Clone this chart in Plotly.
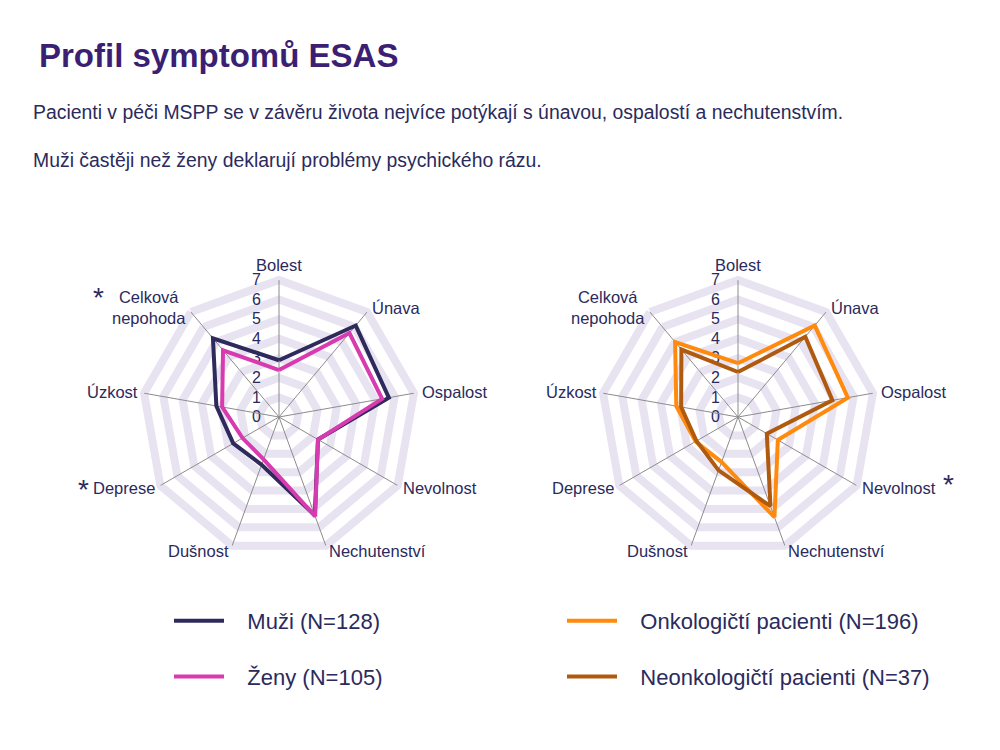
import math
import plotly.graph_objects as go

categories = ["Bolest", "Únava", "Ospalost", "Nevolnost", "Nechutenství",
              "Dušnost", "Deprese", "Úzkost", "Celková nepohoda"]
label_text = ["Bolest", "Únava", "Ospalost", "Nevolnost", "Nechutenství",
              "Dušnost", "Deprese", "Úzkost", "Celková<br>nepohoda"]

muzi = [2.9, 6.1, 5.7, 2.3, 5.35, 2.6, 2.7, 3.25, 5.25]
zeny = [2.4, 5.6, 5.35, 2.3, 5.4, 2.3, 2.15, 2.95, 4.45]
onko = [2.75, 6.1, 5.7, 2.35, 5.45, 2.45, 2.5, 3.2, 5.0]
neonko = [2.3, 5.35, 4.9, 1.7, 4.85, 2.9, 2.45, 2.95, 4.5]

radial_ticks = [0, 1, 2, 3, 4, 5, 6, 7]
R_MAX = 7

# radial distance of each category label and its horizontal anchor
label_r = [7.78, 7.3, 7.38, 7.24, 7.3, 7.3, 7.24, 7.25, 7.3]
label_anchor = ["center", "left", "left", "left", "left",
                "right", "right", "right", "right"]

NAVY = "#2e2b5c"
TEXT = "#2b2a5c"
BAND = "#e8e3f0"
SPOKE = "#8c8c8c"
FONT = "Liberation Sans, Arial, sans-serif"
W, H = 1000, 750
DOM_Y = [0.2613, 0.6267]
DOMS = {"polar": [0.142, 0.416], "polar2": [0.601, 0.875]}

def closed(v):
    return list(v) + [v[0]]

cats_c = closed(categories)

fig = go.Figure()

# spokes drawn above the thick radial gridlines (as in the reference)
spoke_r, spoke_t = [], []
for c in categories:
    spoke_r += [0, R_MAX, None]
    spoke_t += [c, c, c]
for sp in DOMS:
    fig.add_trace(go.Scatterpolar(
        r=spoke_r, theta=spoke_t, mode="lines", subplot=sp, showlegend=False,
        line=dict(color=SPOKE, width=1), hoverinfo="skip", connectgaps=False))

series = [
    ("polar", "legend", "Muži (N=128)", muzi, NAVY, "g1"),
    ("polar", "legend", "Ženy (N=105)", zeny, "#d83aaf", "g2"),
    ("polar2", "legend2", "Onkologičtí pacienti (N=196)", onko, "#ff8a0d", "g3"),
    ("polar2", "legend2", "Neonkologičtí pacienti (N=37)", neonko, "#b05a10", "g4"),
]
for sp, lg, name, vals, col, grp in series:
    fig.add_trace(go.Scatterpolar(
        r=closed(vals), theta=cats_c, mode="lines",
        name="\u00a0\u00a0\u00a0" + name,
        line=dict(color=col, width=4), subplot=sp, legend=lg,
        legendgroup=grp, hoverinfo="skip"))

def polar_layout(xdom):
    return dict(
        domain=dict(x=xdom, y=DOM_Y),
        gridshape="linear",
        bgcolor="rgba(0,0,0,0)",
        radialaxis=dict(
            range=[0, R_MAX], tickvals=radial_ticks, ticktext=[str(t) for t in radial_ticks],
            angle=90, tickangle=90, side="counterclockwise",
            showline=False, showgrid=True, gridcolor=BAND, gridwidth=8,
            ticks="outside", ticklen=12, tickcolor="rgba(0,0,0,0)",
            tickfont=dict(family=FONT, size=16, color=TEXT),
            layer="below traces"),
        angularaxis=dict(
            rotation=90, direction="clockwise", type="category",
            categoryarray=categories,
            showline=True, linecolor=BAND, linewidth=8,
            showgrid=False,
            ticks="", showticklabels=False,
            layer="below traces"),
    )

legend_common = dict(xanchor="left", yanchor="top",
                     font=dict(family=FONT, size=22, color=TEXT),
                     tracegroupgap=24, itemwidth=50, bgcolor="rgba(0,0,0,0)")

fig.update_layout(
    width=W, height=H,
    margin=dict(l=0, r=0, t=0, b=0),
    paper_bgcolor="white", plot_bgcolor="white",
    polar=polar_layout(DOMS["polar"]),
    polar2=polar_layout(DOMS["polar2"]),
    showlegend=True,
    legend=dict(x=0.169, y=0.2, **legend_common),
    legend2=dict(x=0.562, y=0.2, **legend_common),
)

# category labels, placed from the polar geometry (domain centre + radius)
n = len(categories)
for sp, xdom in DOMS.items():
    cx = (xdom[0] + xdom[1]) / 2 * W
    cy = (DOM_Y[0] + DOM_Y[1]) / 2 * H          # from bottom
    rad = min((xdom[1] - xdom[0]) * W, (DOM_Y[1] - DOM_Y[0]) * H) / 2
    unit = rad / R_MAX
    for i, (txt, rr, anc) in enumerate(zip(label_text, label_r, label_anchor)):
        th = math.radians(i * 360 / n)
        px = cx + rr * unit * math.sin(th)
        py = cy + rr * unit * math.cos(th)
        fig.add_annotation(text=txt, x=px / W, y=py / H, xref="paper", yref="paper",
                           xanchor=anc, yanchor="middle", align="center",
                           showarrow=False, borderpad=0,
                           font=dict(family=FONT, size=16.5, color=TEXT))

fig.add_annotation(text="<b>Profil symptomů ESAS</b>", x=0.037, y=1 - 55 / 750,
                   xref="paper", yref="paper", xanchor="left", yanchor="middle",
                   showarrow=False, font=dict(family=FONT, size=33, color="#3b1f72"))
fig.add_annotation(text="Pacienti v péči MSPP se v závěru života nejvíce potýkají s únavou, ospalostí a nechutenstvím.",
                   x=0.031, y=1 - 112 / 750, xref="paper", yref="paper",
                   xanchor="left", yanchor="middle", showarrow=False,
                   font=dict(family=FONT, size=19.4, color=TEXT))
fig.add_annotation(text="Muži častěji než ženy deklarují problémy psychického rázu.",
                   x=0.031, y=1 - 160 / 750, xref="paper", yref="paper",
                   xanchor="left", yanchor="middle", showarrow=False,
                   font=dict(family=FONT, size=19.4, color=TEXT))
for ax, ay in [(98, 297), (83, 489), (948, 484)]:
    fig.add_annotation(text="*", x=ax / 1000, y=1 - ay / 750, xref="paper", yref="paper",
                       xanchor="center", yanchor="middle", showarrow=False,
                       font=dict(family=FONT, size=28, color=NAVY))

fig.write_html("out.html", config={"displayModeBar": False},
               post_script="document.body.style.margin='0';")
